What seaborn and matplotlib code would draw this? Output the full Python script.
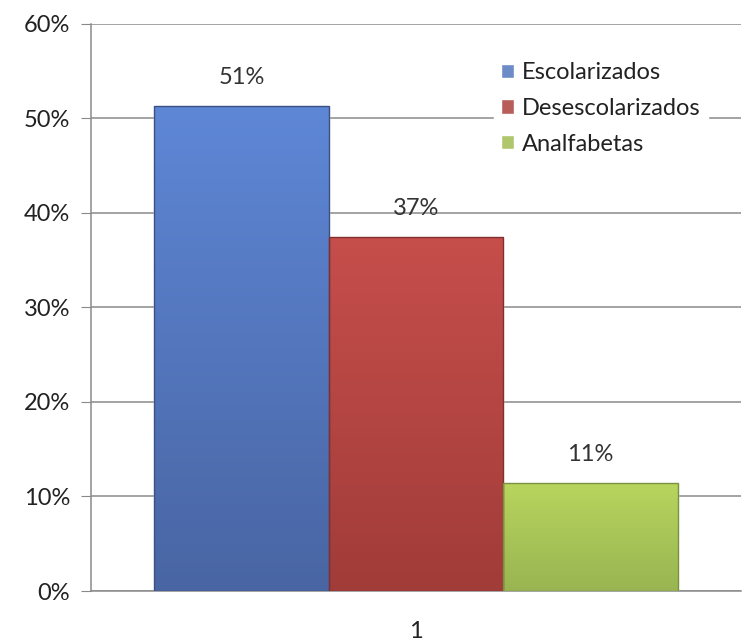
import matplotlib.pyplot as plt
import matplotlib.colors as mcolors
from matplotlib.ticker import PercentFormatter, MultipleLocator
import seaborn as sns
import numpy as np
import pandas as pd

categories = ["1"]
series = ["Escolarizados", "Desescolarizados", "Analfabetas"]
values = [0.513, 0.375, 0.114]
labels = ["51%", "37%", "11%"]
colors_top = ["#5E87D6", "#C64E4B", "#B8D55E"]
colors_bottom = ["#4965A3", "#A13C39", "#98B552"]

df = pd.DataFrame({"cat": categories * len(series), "serie": series, "valor": values})

sns.set_style("white")
plt.rcParams['font.family'] = ['Lato', 'DejaVu Sans']

fig = plt.figure(figsize=(7.44, 6.41), dpi=100)
ax = fig.add_axes([0.1223, 0.078, 0.8737, 0.8846])

sns.barplot(data=df, x="cat", y="valor", hue="serie", palette=colors_top,
            width=0.805, gap=0, ax=ax, zorder=3, legend=True)

ax.set_ylim(0, 0.6)
ax.set_xlim(-0.5, 0.5)
ax.yaxis.set_major_locator(MultipleLocator(0.1))
ax.yaxis.set_major_formatter(PercentFormatter(1.0, decimals=0))
ax.grid(axis="y", color="#8A8A8A", linewidth=1.1, zorder=0)
for s in ["top", "right"]:
    ax.spines[s].set_visible(False)
ax.spines["left"].set_color("#8A8A8A")
ax.spines["bottom"].set_color("#8A8A8A")
ax.spines["left"].set_linewidth(1.1)
ax.spines["bottom"].set_linewidth(1.1)
ax.tick_params(axis="y", left=True, length=7, color="#8A8A8A", labelsize=17, pad=8, labelcolor="#222222")
ax.tick_params(axis="x", bottom=False, labelsize=17, pad=18, labelcolor="#222222")
ax.set_xlabel("")
ax.set_ylabel("")

# gradient fill for each bar
bars = [p for p in ax.patches if p.get_height() > 0]
for p, ctop, cbot in zip(bars, colors_top, colors_bottom):
    x0, y0 = p.get_x(), p.get_y()
    w, h = p.get_width(), p.get_height()
    c1 = np.array(mcolors.to_rgb(ctop))
    c2 = np.array(mcolors.to_rgb(cbot))
    t = np.linspace(0, 1, 200)[:, None]
    grad = (c1 * (1 - t) + c2 * t)[:, None, :]
    grad = np.repeat(grad, 2, axis=1)
    im = ax.imshow(grad, extent=[x0, x0 + w, y0, y0 + h], aspect="auto",
                   origin="upper", zorder=3.5)
    im.set_clip_path(p)
    ax.add_patch(plt.Rectangle((x0, y0), w, h, fill=False,
                               edgecolor=mcolors.to_hex(c2 * 0.8), lw=1.0, zorder=4.5))

for p, lab in zip(bars, labels):
    ax.annotate(lab, (p.get_x() + p.get_width() / 2, p.get_height()),
                xytext=(0, 13), textcoords="offset points", ha="center", va="bottom",
                fontsize=17, color="#333333", zorder=6)

leg = ax.legend(loc="upper left", bbox_to_anchor=(0.62, 0.945), frameon=True,
                fontsize=17, handlelength=0.55, handleheight=0.55, handletextpad=0.35,
                labelspacing=0.62, borderpad=0.3, borderaxespad=0)
leg.get_frame().set_facecolor("white")
leg.get_frame().set_edgecolor("white")
leg.get_frame().set_alpha(1)
leg.set_zorder(7)
for t in leg.get_texts():
    t.set_color("#222222")

fig.savefig("out.png", dpi=100)
